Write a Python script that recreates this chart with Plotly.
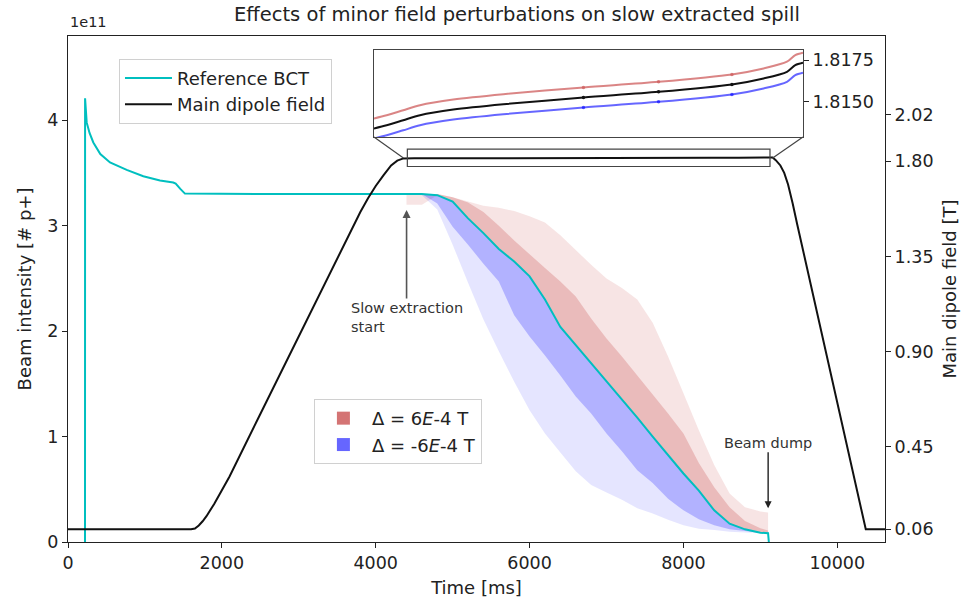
import plotly.graph_objects as go

SCALE = 1e11  # beam intensities are stored in units of 1e11 protons

# --- Reference BCT before slow extraction (time [ms], intensity [1e11 p+]) ---
bct_pre_t = [221, 222, 243, 280, 329, 420, 546, 763, 979, 1196, 1368, 1400, 1460, 1520, 2500, 3500]
bct_pre_i = [0.0, 4.21, 3.98, 3.88, 3.79, 3.68, 3.60, 3.53, 3.47, 3.43, 3.41, 3.40, 3.35, 3.305, 3.30, 3.30]

# --- Slow extraction window: reference spill and the envelopes for +/- field offsets ---
ext_t = [4400, 4600, 4800, 5000, 5200, 5400, 5600, 5800, 6000, 6200, 6400, 6600, 6800,
         7000, 7200, 7400, 7600, 7800, 8000, 8200, 8400, 8600, 8800, 9000, 9100]
bct_ext = [3.30, 3.30, 3.29, 3.23, 3.07, 2.93, 2.78, 2.66, 2.52, 2.30, 2.04, 1.87, 1.70,
           1.52, 1.35, 1.18, 1.00, 0.82, 0.65, 0.487, 0.30, 0.174, 0.12, 0.088, 0.083]
pos_low = [3.20, 3.20, 3.29, 3.23, 3.07, 2.93, 2.78, 2.66, 2.52, 2.30, 2.04, 1.87, 1.70,
           1.52, 1.35, 1.18, 1.00, 0.82, 0.65, 0.487, 0.30, 0.174, 0.12, 0.088, 0.083]
pos_mid = [3.30, 3.30, 3.30, 3.27, 3.22, 3.13, 3.00, 2.86, 2.73, 2.60, 2.47, 2.33, 2.12,
           1.93, 1.76, 1.58, 1.40, 1.22, 1.03, 0.75, 0.52, 0.33, 0.20, 0.13, 0.11]
pos_out = [3.30, 3.30, 3.30, 3.27, 3.23, 3.19, 3.17, 3.14, 3.09, 3.03, 2.91, 2.77, 2.63,
           2.50, 2.41, 2.30, 2.08, 1.76, 1.41, 1.06, 0.73, 0.46, 0.33, 0.29, 0.28]
neg_mid = [3.30, 3.30, 3.21, 2.99, 2.82, 2.64, 2.47, 2.15, 1.95, 1.77, 1.58, 1.38, 1.22,
           1.03, 0.86, 0.68, 0.56, 0.41, 0.30, 0.215, 0.16, 0.12, 0.105, 0.088, 0.082]
neg_out = [3.30, 3.29, 3.155, 2.82, 2.46, 2.11, 1.81, 1.52, 1.25, 1.03, 0.85, 0.67, 0.54,
           0.47, 0.40, 0.32, 0.27, 0.21, 0.16, 0.125, 0.114, 0.098, 0.091, 0.085, 0.082]
dump_t = [9110]
dump_i = [0.0]

# --- Main dipole field cycle (time [ms], field [T]) ---
ramp_up_t = [0, 1600, 1650, 1700, 1750, 1800, 1900, 2000, 2100, 2500, 3000, 3500, 3700,
             3800, 3900, 4000, 4100, 4200, 4280]
ramp_up_b = [0.06, 0.06, 0.064, 0.078, 0.098, 0.122, 0.18, 0.243, 0.31, 0.605, 0.975, 1.345,
             1.49, 1.56, 1.625, 1.683, 1.733, 1.78, 1.803]
flat_t = [4360, 4502, 4688, 4875, 5248, 5808, 6704, 7544, 8365, 8719, 8981, 9074, 9160]
flat_b = [1.81341, 1.8136, 1.8139, 1.8142, 1.81454, 1.81486, 1.81526, 1.8156, 1.81604,
          1.8164, 1.8168, 1.8172, 1.81734]
ramp_down_t = [9200, 9260, 9310, 9360, 9420, 9480, 10370, 10620]
ramp_down_b = [1.805, 1.78, 1.745, 1.69, 1.60, 1.50, 0.06, 0.06]
delta_b = 6e-4  # field offset of the perturbed cycles [T]
sample_idx = [6, 7, 8]  # flat-top samples marked in the zoomed view

x_ticks = [0, 2000, 4000, 6000, 8000, 10000]
x_ticklabels = ["0", "2000", "4000", "6000", "8000", "10000"]
y_ticks = [0, 1, 2, 3, 4]
b_ticks = [0.06, 0.45, 0.90, 1.35, 1.80, 2.02]
b_ticklabels = ["0.06", "0.45", "0.90", "1.35", "1.80", "2.02"]
zoom_ticks = [1.8150, 1.8175]
zoom_ticklabels = ["1.8150", "1.8175"]

X_RANGE = [0, 10620]
Y_RANGE = [0, 4.8]
B_RANGE = [0, 2.392]
ZOOM_X = [4360, 9160]
ZOOM_B = [1.8129, 1.8181]
ZOOM_DOM_X = [0.3745, 0.8996]
ZOOM_DOM_Y = [0.8004, 0.9723]

FONT = "DejaVu Sans"
CYAN = "#00bfbf"

bct_t = bct_pre_t + ext_t + dump_t
bct_i = bct_pre_i + bct_ext + dump_i
dip_t = ramp_up_t + flat_t + ramp_down_t
dip_b = ramp_up_b + flat_b + ramp_down_b


def band(upper, lower):
    """Closed polygon between two envelopes on the extraction time grid."""
    xs = ext_t + ext_t[::-1]
    ys = [v * SCALE for v in upper] + [v * SCALE for v in lower[::-1]]
    return xs, ys


fig = go.Figure()

for up, lo, col in [
    (pos_out, pos_low, "rgba(205,92,92,0.17)"),
    (pos_mid, bct_ext, "rgba(205,92,92,0.30)"),
    (bct_ext, neg_out, "rgba(0,0,255,0.10)"),
    (bct_ext, neg_mid, "rgba(0,0,255,0.22)"),
]:
    bx, by = band(up, lo)
    fig.add_trace(go.Scatter(x=bx, y=by, fill="toself", fillcolor=col, mode="none",
                             showlegend=False, hoverinfo="skip", xaxis="x", yaxis="y"))

fig.add_trace(go.Scatter(x=bct_t, y=[v * SCALE for v in bct_i], mode="lines",
                         line=dict(color=CYAN, width=2), name="Reference BCT",
                         xaxis="x", yaxis="y", legend="legend"))
fig.add_trace(go.Scatter(x=dip_t, y=dip_b, mode="lines",
                         line=dict(color="#111111", width=2), name="Main dipole field",
                         xaxis="x", yaxis="y2", legend="legend"))

# legend patches for the perturbation envelopes
fig.add_trace(go.Scatter(x=[None], y=[None], mode="markers",
                         marker=dict(symbol="square", size=13, color="rgba(205,92,92,0.85)"),
                         name="Δ = 6<i>E</i>-4 T", legend="legend2", xaxis="x", yaxis="y"))
fig.add_trace(go.Scatter(x=[None], y=[None], mode="markers",
                         marker=dict(symbol="square", size=13, color="rgba(0,0,255,0.6)"),
                         name="Δ = -6<i>E</i>-4 T", legend="legend2", xaxis="x", yaxis="y"))

# zoomed view of the flat top
for off, col in [(delta_b, "rgba(205,92,92,0.75)"), (-delta_b, "rgba(0,0,255,0.6)"), (0.0, "#111111")]:
    fig.add_trace(go.Scatter(x=flat_t, y=[b + off for b in flat_b], mode="lines",
                             line=dict(color=col, width=2, shape="spline", smoothing=0.8),
                             showlegend=False, xaxis="x2", yaxis="y3", hoverinfo="skip"))
    fig.add_trace(go.Scatter(x=[flat_t[i] for i in sample_idx],
                             y=[flat_b[i] + off for i in sample_idx], mode="markers",
                             marker=dict(color=col, size=3.5), showlegend=False,
                             xaxis="x2", yaxis="y3", hoverinfo="skip"))

axis_common = dict(showline=True, linecolor="#222", linewidth=1.2, ticks="outside",
                   ticklen=5, tickwidth=1.2, tickcolor="#222", showgrid=False, zeroline=False,
                   automargin=False,
                   tickfont=dict(size=17.5, family=FONT, color="#222"))

fig.update_layout(
    width=968, height=598,
    margin=dict(l=68, r=83, t=36, b=56),
    paper_bgcolor="white", plot_bgcolor="white",
    font=dict(family=FONT, size=17.5, color="#222"),
    title=dict(text="Effects of minor field perturbations on slow extracted spill",
               x=0.534, xanchor="center", y=0.977, yanchor="middle",
               font=dict(size=19.5, family=FONT, color="#222")),
    xaxis=dict(range=X_RANGE, tickvals=x_ticks, ticktext=x_ticklabels, mirror=True,
               domain=[0, 1],
               title=dict(text="Time [ms]", font=dict(size=18), standoff=10), **axis_common),
    yaxis=dict(range=[v * SCALE for v in Y_RANGE], tickvals=[v * SCALE for v in y_ticks],
               ticktext=[str(v) for v in y_ticks],
               title=dict(text="Beam intensity [# p+]", font=dict(size=18), standoff=10),
               **axis_common),
    yaxis2=dict(range=B_RANGE, tickvals=b_ticks, ticktext=b_ticklabels, overlaying="y",
                side="right", anchor="x",
                title=dict(text="Main dipole field [T]", font=dict(size=18), standoff=10),
                **axis_common),
    xaxis2=dict(domain=ZOOM_DOM_X, anchor="y3", range=ZOOM_X, showticklabels=False,
                showline=True, mirror=True, linecolor="#444", linewidth=1.2, ticks="",
                showgrid=False, zeroline=False, automargin=False),
    yaxis3=dict(domain=ZOOM_DOM_Y, anchor="x2", range=ZOOM_B, side="right",
                tickvals=zoom_ticks, ticktext=zoom_ticklabels, showline=True, mirror=True,
                linecolor="#444", linewidth=1.2, ticks="outside", ticklen=5, tickwidth=1.2,
                tickcolor="#222", showgrid=False, zeroline=False, automargin=False,
                tickfont=dict(size=17.5, family=FONT, color="#222")),
    legend=dict(x=0.0624, y=0.955, xanchor="left", yanchor="top", itemwidth=47,
                bgcolor="rgba(255,255,255,0.8)", bordercolor="#d0d0d0", borderwidth=1,
                font=dict(size=18, family=FONT, color="#222")),
    legend2=dict(x=0.301, y=0.2827, xanchor="left", yanchor="top", itemwidth=47,
                 bgcolor="rgba(255,255,255,0.8)", bordercolor="#d0d0d0", borderwidth=1,
                 font=dict(size=18, family=FONT, color="#222")),
    showlegend=True,
)

# offset label for the intensity axis
fig.add_annotation(text="1e11", xref="paper", yref="paper", x=0, y=1.0, xanchor="left",
                   yanchor="bottom", yshift=4, showarrow=False,
                   font=dict(size=14.5, family=FONT, color="#222"))

# event markers
fig.add_annotation(x=4401, y=3.15 * SCALE, ax=4401, ay=2.13 * SCALE, axref="x", ayref="y",
                   xref="x", yref="y", text="Slow extraction<br>start", align="left",
                   showarrow=True, arrowhead=2, arrowsize=1, arrowwidth=1.6, arrowcolor="#555",
                   font=dict(size=14.5, family=FONT, color="#333"))
fig.add_annotation(x=9101, y=0.32 * SCALE, ax=9101, ay=0.942 * SCALE, axref="x", ayref="y",
                   xref="x", yref="y", text="Beam dump", showarrow=True, arrowhead=2,
                   arrowsize=1, arrowwidth=1.4, arrowcolor="#222",
                   font=dict(size=14.5, family=FONT, color="#333"))


# region of the main axes shown in the zoomed view, plus connector lines
def paper_to_x(px):
    return X_RANGE[0] + px * (X_RANGE[1] - X_RANGE[0])


def paper_to_b(py):
    return B_RANGE[0] + py * (B_RANGE[1] - B_RANGE[0])


zoom_rect = dict(x0=4411, x1=9125, y0=1.775, y1=1.857)
fig.add_shape(type="rect", xref="x", yref="y2", line=dict(color="#444", width=1.2), **zoom_rect)
mid_b = sum(ZOOM_B) / 2
for dom_x, data_x in [(ZOOM_DOM_X[0], ZOOM_X[0]), (ZOOM_DOM_X[1], ZOOM_X[1])]:
    fig.add_shape(type="line", xref="x", yref="y2",
                  x0=paper_to_x(dom_x), y0=paper_to_b(ZOOM_DOM_Y[0]), x1=data_x, y1=mid_b,
                  line=dict(color="#444", width=1.2))

fig.write_html("out.html")
